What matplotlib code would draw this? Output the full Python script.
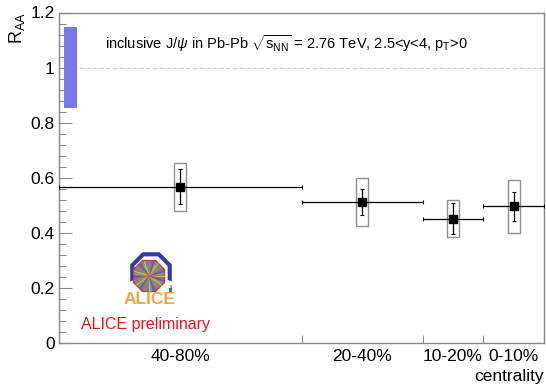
import matplotlib
matplotlib.use("Agg")
import matplotlib.pyplot as plt
import numpy as np
from matplotlib.patches import Rectangle, Polygon

plt.rcParams["font.family"] = ["Liberation Sans", "DejaVu Sans"]
plt.rcParams["mathtext.fontset"] = "custom"
plt.rcParams["mathtext.rm"] = "Liberation Sans"
plt.rcParams["mathtext.it"] = "Liberation Sans:italic"

# centrality bins (percent), most peripheral first
bin_labels = ["40-80%", "20-40%", "10-20%", "0-10%"]
bin_low = np.array([40, 20, 10, 0])
bin_high = np.array([80, 40, 20, 10])
raa = np.array([0.567, 0.511, 0.452, 0.496])
stat_err = np.array([0.063, 0.048, 0.056, 0.052])
sys_err = np.array([0.087, 0.088, 0.068, 0.097])
global_err = 0.147

centers = 0.5 * (bin_low + bin_high)
half_w = 0.5 * (bin_high - bin_low)

fig = plt.figure(figsize=(5.46, 3.87), dpi=100)
ax = fig.add_axes([59 / 546, 44 / 387, 485 / 546, 330.5 / 387])

ax.set_xlim(80, 0)
ax.set_ylim(0, 1.2)

# reference line and global uncertainty box
ax.axhline(1.0, color="#cccccc", lw=0.8, ls=(0, (4, 2)), zorder=1)
ax.add_patch(Rectangle((79.17, 1.0 - global_err), -2.14, 2 * global_err,
                       facecolor="#7777ee", edgecolor="none", zorder=2))

# systematic boxes
for c, v, s in zip(centers, raa, sys_err):
    ax.add_patch(Rectangle((c - 1.0, v - s), 2.0, 2 * s, facecolor="none",
                           edgecolor="#909090", lw=1.0, zorder=3))

ax.errorbar(centers, raa, xerr=half_w, yerr=stat_err, fmt="s", color="black",
            ms=5.5, elinewidth=0.9, capsize=1.2, capthick=0.8, zorder=4)

# ticks
ax.set_yticks(np.arange(0, 1.21, 0.2))
ax.set_yticklabels(["0", "0.2", "0.4", "0.6", "0.8", "1", "1.2"])
ax.set_yticks(np.arange(0, 1.2, 0.04), minor=True)
ax.tick_params(axis="y", which="major", direction="in", length=9.5, width=0.8,
               color="#888888", labelsize=12.5, pad=3)
ax.tick_params(axis="y", which="minor", direction="in", length=4.8, width=0.8,
               color="#888888")
ax.set_xticks([40, 20, 10])
ax.set_xticklabels(["", "", ""])
ax.set_xticks(centers, minor=True)
ax.set_xticklabels(bin_labels, minor=True)
ax.tick_params(axis="x", which="major", direction="in", length=6, width=0.8,
               color="#888888")
ax.tick_params(axis="x", which="minor", length=0, labelsize=12.5, pad=4)

for sp in ax.spines.values():
    sp.set_color("#888888")
    sp.set_linewidth(1.0)

fig.text(17 / 546, 1 - 44 / 387, r"R$_{\rm AA}$", rotation=90, ha="center",
         va="bottom", fontsize=13)
fig.text(544 / 546, 1 - 377 / 387, "centrality", ha="right", va="center",
         fontsize=12.5)
fig.text(105 / 546, 1 - 44 / 387,
         r"inclusive J/$\psi$ in Pb-Pb $\sqrt{\mathrm{s}_{\rm NN}}$ = 2.76 TeV, 2.5<y<4, p$_{\rm T}$>0",
         ha="left", va="center", fontsize=10.5)
fig.text(81 / 546, 1 - 324 / 387, "ALICE preliminary", color="#ee1111",
         ha="left", va="center", fontsize=11.5)

# ALICE logo (rough sketch)
lg = fig.add_axes([118 / 546, 1 - 310 / 387, 62 / 546, 60 / 387])
lg.set_xlim(0, 62)
lg.set_ylim(0, 60)
lg.axis("off")


def octagon(cx, cy, r):
    ang = np.deg2rad(22.5 + 45 * np.arange(8))
    return np.column_stack([cx + r * np.cos(ang), cy + r * np.sin(ang)])


outer = octagon(33, 37, 22.5)
inner_b = octagon(33, 37, 18)
# open-bottom blue ring: outer path from lower-right around top to lower-left
path_out = outer[[7, 0, 1, 2, 3, 4]]
path_in = inner_b[[4, 3, 2, 1, 0, 7]]
lg.add_patch(Polygon(np.vstack([path_out, path_in]), closed=True,
                     facecolor="#2b3fa8", edgecolor="none"))
red = octagon(31, 34, 17.5)
lg.add_patch(Polygon(red, closed=True, facecolor="#d03030", edgecolor="none"))
core = octagon(31, 34, 16)
lg.add_patch(Polygon(core, closed=True, facecolor="#6a7fb0", edgecolor="none"))
cols = ["#f2b030", "#7fb040", "#4060c0", "#c05090", "#e07030", "#50a0a0"]
for k, a in enumerate(np.linspace(0, 2 * np.pi, 40, endpoint=False)):
    lg.plot([31, 31 + 15 * np.cos(a)], [34, 34 + 15 * np.sin(a)],
            color=cols[k % len(cols)], lw=0.9)
lg.add_patch(Polygon(octagon(31, 34, 4), closed=True, facecolor="#f5a030",
                     edgecolor="none"))
lg.add_patch(Rectangle((51, 17), 3, 5, facecolor="#3070c0", edgecolor="none"))
lg.add_patch(Rectangle((51.5, 22.5), 2, 2.5, facecolor="#f0a040", edgecolor="none"))
lg.text(31, 10, "ALICE", color="#f5a440", fontsize=12.5, fontweight="bold",
        ha="center", va="center")

fig.savefig("out.png", dpi=100)
